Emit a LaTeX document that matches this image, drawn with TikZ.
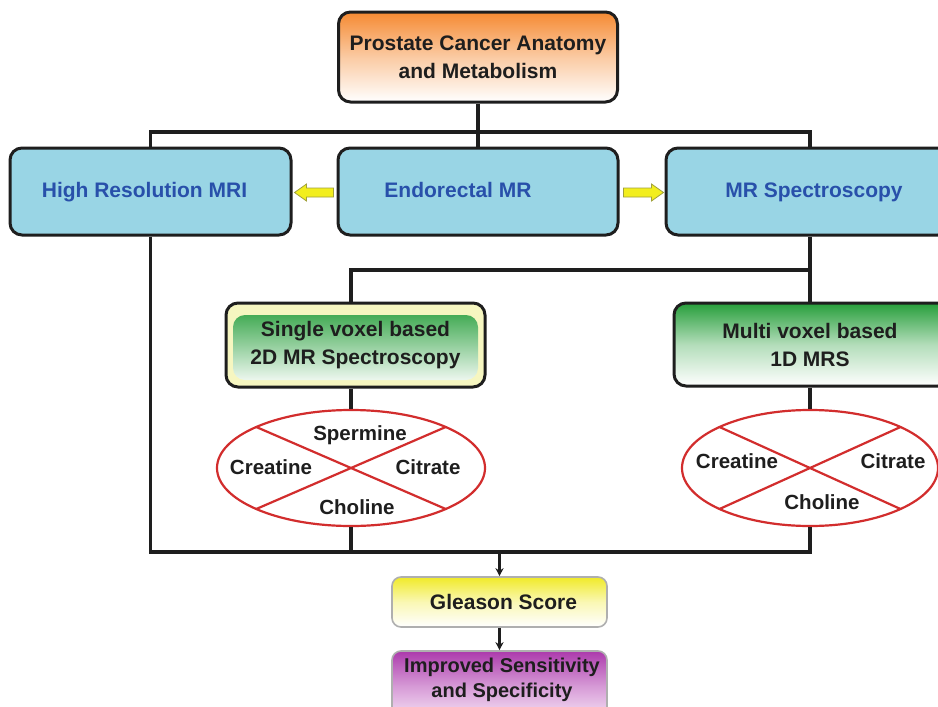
\documentclass[tikz,border=0pt]{standalone}
\usepackage{fontspec}
\setmainfont{Liberation Sans}
\usetikzlibrary{shapes.geometric,arrows.meta,calc}
\definecolor{linec}{RGB}{30,30,30}
\definecolor{boxblue}{RGB}{153,213,229}
\definecolor{txtblue}{RGB}{40,80,170}
\definecolor{txtdark}{RGB}{30,30,30}
\definecolor{orangetop}{RGB}{245,138,50}
\definecolor{greentop}{RGB}{38,158,58}
\definecolor{paleyellow}{RGB}{246,246,192}
\definecolor{yellowtop}{RGB}{240,234,40}
\definecolor{purpletop}{RGB}{172,58,172}
\definecolor{pinkbot}{RGB}{248,232,248}
\definecolor{ellred}{RGB}{210,45,45}
\definecolor{arrowyellow}{RGB}{242,238,30}
\definecolor{arrowedge}{RGB}{160,160,60}
\definecolor{softgray}{RGB}{175,175,175}
\begin{document}
\begin{tikzpicture}[x=1pt,y=-1pt,
  txt/.style={font=\bfseries\fontsize{21}{28}\selectfont, text=txtdark, align=center},
  boxbase/.style={rounded corners=12pt, line width=3pt, draw=linec, inner sep=0pt},
  bluebox/.style={boxbase, fill=boxblue, minimum height=87pt, font=\bfseries\fontsize{21}{26}\selectfont,
     text=txtblue, text height=15pt, text depth=4pt},
  conn/.style={line width=3.2pt, draw=linec},
  thinconn/.style={line width=2.4pt, draw=linec},
  ell/.style={ellipse, draw=ellred, line width=2.2pt, fill=white, inner sep=0pt, minimum height=116pt},
  ellline/.style={draw=ellred, line width=2.2pt},
  elltxt/.style={font=\bfseries\fontsize{20.5}{24}\selectfont, text=txtdark, text height=15pt, text depth=4pt, inner sep=0pt},
  yarrow/.style={fill=arrowyellow, draw=arrowedge, line width=0.8pt, line join=miter}
]
\useasboundingbox (0,0) rectangle (938,707);
\clip (0,0) rectangle (938,707);
\fill[white] (0,0) rectangle (938,707);

\coordinate (yb1) at (0,132);
\coordinate (yb2) at (0,270);
\coordinate (yb3) at (0,552);

% top box
\node[boxbase, txt, top color=orangetop, bottom color=white, middle color=orangetop!45!white,
      minimum width=279pt, minimum height=90pt] (top) at (478,57)
      {Prostate Cancer Anatomy\\and Metabolism};

% second row
\node[bluebox, minimum width=281pt] (hr) at (150.5,191.5) {High Resolution MRI\hspace*{12pt}};
\node[bluebox, minimum width=280pt] (em) at (478,191.5) {Endorectal MR\hspace*{40pt}};
\node[bluebox, minimum width=284pt] (mrs) at (808,191.5) {\hspace*{12pt}MR Spectroscopy};

% ellipses
\node[ell, minimum width=268pt] (e1) at (351,468) {};
\node[ell, minimum width=256pt] (e2) at (810,468) {};

% third row boxes
\node[boxbase, txt, fill=paleyellow, minimum width=259pt, minimum height=84pt,
      path picture={\shade[top color=greentop, bottom color=white]
        ([xshift=7pt,yshift=-12pt]path picture bounding box.north west) rectangle
        ([xshift=-7pt,yshift=7pt]path picture bounding box.south east);}]
      (sv) at (355.5,345) {Single voxel based\\2D MR Spectroscopy};
\node[boxbase, txt, top color=greentop, bottom color=white, middle color=greentop!35!white,
      minimum width=276pt, minimum height=83pt] (mv) at (812,344.5)
      {Multi voxel based\hspace*{4pt}\\1D MRS\hspace*{4pt}};

% bottom boxes
\node[rounded corners=9pt, line width=1.6pt, draw=softgray, inner sep=0pt, txt,
      top color=yellowtop, bottom color=white, middle color=yellowtop!35!white,
      minimum width=215pt, minimum height=50pt] (gs) at (499.5,602) {\hspace*{8pt}Gleason Score};
\node[rounded corners=9pt, line width=1.6pt, draw=softgray, inner sep=0pt,
      top color=purpletop, bottom color=pinkbot, middle color=purpletop!45!pinkbot,
      minimum width=215pt, minimum height=70pt] (imp) at (499.5,686) {};
\node[font=\bfseries\fontsize{20}{25}\selectfont, text=txtdark, align=center, inner sep=0pt]
      (impt) at (502,680) {Improved Sensitivity\\and Specificity};

% connectors top
\draw[conn] (top.south) -- (top.south |- yb1);
\draw[conn] (hr.north) -- (hr.north |- yb1) -- (e2.north |- yb1) -- (e2.north |- mrs.north);
\draw[conn] (em.north) -- (em.north |- yb1);

% yellow block arrows
\coordinate (la1) at ($(em.west)+(-3,1)$);
\coordinate (la2) at ($(hr.east)+(2,1)$);
\draw[yarrow] ($(la1)+(0,-4.5)$) -- ($(la2)+(12,-4.5)$) -- ($(la2)+(12,-8.5)$) -- (la2)
  -- ($(la2)+(12,8.5)$) -- ($(la2)+(12,4.5)$) -- ($(la1)+(0,4.5)$) -- cycle;
\coordinate (ra1) at ($(em.east)+(4,1)$);
\coordinate (ra2) at ($(mrs.west)+(-1,1)$);
\draw[yarrow] ($(ra1)+(0,-4.5)$) -- ($(ra2)+(-12,-4.5)$) -- ($(ra2)+(-12,-8.5)$) -- (ra2)
  -- ($(ra2)+(-12,8.5)$) -- ($(ra2)+(-12,4.5)$) -- ($(ra1)+(0,4.5)$) -- cycle;

% MR spectroscopy branch
\draw[conn] (e2.north |- mrs.south) -- (e2.north |- mv.north);
\draw[conn] (e2.north |- yb2) -- (e1.north |- yb2) -- (e1.north |- sv.north);
\draw[conn] (e1.north |- sv.south) -- (e1.north);
\draw[conn] (e2.north |- mv.south) -- (e2.north);

% bottom bus
\draw[conn] (hr.south) -- (hr.south |- yb3) -- (e2.south |- yb3) -- (e2.south);
\draw[conn] (e1.south) -- (e1.south |- yb3);
\draw[thinconn, -{Stealth[length=8pt,width=8pt]}] (gs.north |- yb3) -- (gs.north);
\draw[thinconn, -{Stealth[length=8pt,width=8pt]}] (gs.south) -- (imp.north);

% ellipse crosses
\draw[ellline] ($(e1.center)+(135:134 and 58)$) -- ($(e1.center)+(-45:134 and 58)$);
\draw[ellline] ($(e1.center)+(45:134 and 58)$) -- ($(e1.center)+(225:134 and 58)$);
\draw[ellline] ($(e2.center)+(135:128 and 58)$) -- ($(e2.center)+(-45:128 and 58)$);
\draw[ellline] ($(e2.center)+(45:128 and 58)$) -- ($(e2.center)+(225:128 and 58)$);

% ellipse labels
\node[elltxt] (sp1) at (360,435) {Spermine};
\node[elltxt] (cr1) at (271,469) {Creatine};
\node[elltxt] (ci1) at (428,469) {Citrate};
\node[elltxt] (ch1) at (357,509) {Choline};
\node[elltxt] (cr2) at (737,463) {Creatine};
\node[elltxt] (ci2) at (893,463) {Citrate};
\node[elltxt] (ch2) at (822,504) {Choline};
\end{tikzpicture}
\end{document}
